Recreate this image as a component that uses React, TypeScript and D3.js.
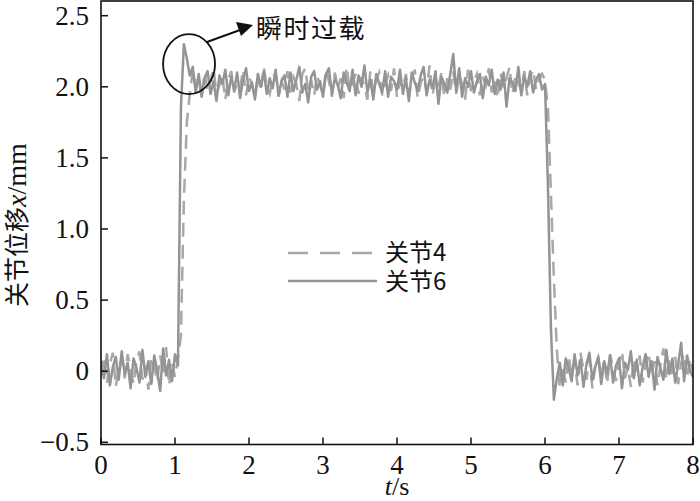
import React from "react";
import * as d3 from "d3";

// Sampled displacement (mm), uniformly spaced from t = 0 s to t = 8 s
const joint6: number[] = [
  0.08, -0.05, 0.12, -0.10, 0.03, 0.10, -0.06, 0.14, -0.02, 0.06,
  -0.12, 0.09, 0.02, -0.08, 0.15, -0.04, 0.07, -0.09, 0.11, 0.00,
  -0.14, 0.16, -0.03, 0.08, -0.07, 0.12, 0.04,
  1.85, 2.30, 2.20, 2.08,
  2.14, 1.96, 2.09, 1.93, 2.06, 2.11, 1.95, 2.04, 1.90, 2.08,
  2.02, 2.12, 1.94, 2.07, 1.98, 2.10, 1.92, 2.05, 2.13, 1.97,
  2.03, 1.91, 2.09, 2.00, 2.11, 1.95, 2.06, 1.99, 2.12, 1.94,
  2.04, 2.08, 1.93, 2.10, 1.97, 2.05, 2.14, 1.96, 2.02, 1.89,
  2.07, 2.11, 1.98, 2.04, 1.93, 2.09, 2.13, 1.95, 2.06, 2.01,
  1.92, 2.10, 2.03, 1.97, 2.12, 1.94, 2.08, 2.00, 2.15, 1.96,
  2.05, 1.91, 2.09, 2.02, 1.96, 2.11, 1.93, 2.07, 2.04, 1.98,
  2.12, 1.95, 2.06, 1.90, 2.10, 2.03, 1.97, 2.08, 2.14, 1.94,
  2.05, 1.99, 2.11, 1.88, 2.07, 2.02, 1.96, 2.09, 2.23, 1.97,
  2.13, 1.93, 2.06, 2.00, 2.11, 1.96, 2.04, 2.09, 1.92, 2.07,
  2.01, 2.12, 1.95, 2.05, 1.98, 2.10, 1.86, 2.06, 2.03, 1.97,
  2.14, 1.94, 2.08, 2.00, 2.11, 1.96, 2.05, 2.09, 1.98,
  2.02, 1.30, 0.30, -0.20,
  -0.05, 0.06, -0.10, 0.09, 0.02, -0.07, 0.12, -0.03, 0.08, -0.11,
  0.05, 0.13, -0.06, 0.03, 0.10, -0.09, 0.07, -0.02, 0.11, -0.08,
  0.04, 0.09, -0.12, 0.06, 0.01, 0.14, -0.05, 0.08, -0.10, 0.03,
  0.12, -0.04, 0.07, -0.13, 0.10, 0.02, -0.06, 0.15, -0.02, 0.09,
  -0.08, 0.05, 0.20, -0.07, 0.11, 0.00, -0.04,
];

const joint4: number[] = [
  -0.03, 0.10, -0.08, 0.05, 0.13, -0.11, 0.02, 0.09, -0.05, 0.12,
  0.00, -0.09, 0.07, 0.14, -0.06, 0.04, -0.13, 0.10, 0.03, -0.07,
  0.11, -0.02, 0.17, -0.10, 0.06, -0.04, 0.09, 0.25,
  1.20, 1.75, 1.95, 2.12, 1.99,
  2.06, 1.93, 2.10, 1.97, 2.04, 2.13, 1.95, 2.01, 2.08, 1.91,
  2.05, 2.11, 1.96, 2.03, 1.99, 2.12, 1.94, 2.07, 2.02, 1.92,
  2.09, 1.97, 2.14, 2.00, 1.95, 2.06, 2.10, 1.93, 2.04, 1.98,
  2.11, 1.96, 2.07, 2.02, 1.90, 2.09, 2.13, 1.97, 2.05, 1.94,
  2.08, 2.01, 1.95, 2.12, 2.04, 1.93, 2.10, 1.99, 2.06, 1.92,
  2.14, 1.98, 2.03, 2.09, 1.95, 2.07, 2.00, 1.91, 2.11, 1.96,
  2.05, 2.10, 1.94, 2.02, 2.08, 1.97, 2.13, 1.93, 2.04, 1.99,
  2.09, 1.95, 2.06, 2.12, 1.92, 2.03, 2.07, 1.97, 2.15, 1.94,
  2.05, 2.00, 2.10, 1.93, 2.06, 1.98, 2.11, 1.95, 2.08, 2.02,
  1.91, 2.12, 1.97, 2.04, 2.09, 1.94, 2.07, 2.01, 2.13, 1.96,
  2.05, 1.92, 2.10, 1.99, 2.06, 2.14, 1.95, 2.08, 2.03, 1.97,
  2.11, 1.94, 2.07, 2.12, 1.98, 2.05, 2.09,
  2.05, 1.85, 1.25, 0.65, 0.15, -0.12,
  0.04, -0.08, 0.11, -0.03, 0.07, -0.10, 0.13, 0.01, -0.06, 0.09,
  -0.12, 0.05, 0.10, -0.04, 0.08, -0.09, 0.12, 0.02, -0.07, 0.06,
  0.14, -0.05, 0.03, -0.11, 0.09, 0.00, 0.11, -0.08, 0.05, 0.13,
  -0.03, 0.07, -0.10, 0.04, 0.16, -0.06, 0.08, -0.02, 0.10, -0.09,
  0.06, 0.12, -0.05, 0.09, -0.01,
];

const xTicks = [0, 1, 2, 3, 4, 5, 6, 7, 8];
const yTicks = [-0.5, 0, 0.5, 1.0, 1.5, 2.0, 2.5];
const yTickLabels = ["\u22120.5", "0", "0.5", "1.0", "1.5", "2.0", "2.5"];
const seriesNames = ["关节4", "关节6"];
const annotationText = "瞬时过载";

const W = 700;
const H = 501;
const M = { left: 101, right: 693, top: 1, bottom: 444.5 };

export default function App() {
  const x = d3.scaleLinear().domain([0, 8]).range([M.left, M.right]);
  const y = d3.scaleLinear().domain([-0.5, 2.5]).range([442.3, 15.7]);

  const toPts = (vals: number[]) => {
    const step = 8 / (vals.length - 1);
    return vals.map((v, i) => [i * step, v] as [number, number]);
  };
  const line = d3
    .line<[number, number]>()
    .x((d) => x(d[0]))
    .y((d) => y(d[1]));

  const serif = "'Liberation Serif', 'Times New Roman', serif";
  const cjk = "'Noto Sans CJK SC', 'Noto Sans', sans-serif";

  return (
    <div style={{ position: "absolute", left: 0, top: 0 }}>
      <svg width={W} height={H} style={{ display: "block", background: "#fff" }}>
        <defs>
          <clipPath id="plotclip">
            <rect x={M.left} y={M.top} width={M.right - M.left} height={M.bottom - M.top} />
          </clipPath>
        </defs>
        <g clipPath="url(#plotclip)">
          <path d={line(toPts(joint4)) || ""} fill="none" stroke="#a8a8a8" strokeWidth={2.5} strokeDasharray="14 8" />
          <path d={line(toPts(joint6)) || ""} fill="none" stroke="#949494" strokeWidth={2.5} strokeLinejoin="round" />
        </g>
        {/* frame */}
        <rect x={M.left} y={M.top} width={M.right - M.left} height={M.bottom - M.top} fill="none" stroke="#111" strokeWidth={1.6} />
        {/* x ticks */}
        {xTicks.map((t) => (
          <g key={"x" + t}>
            <line x1={x(t)} x2={x(t)} y1={M.bottom} y2={M.bottom - 7} stroke="#111" strokeWidth={1.5} />
            <text x={x(t)} y={474} textAnchor="middle" fontFamily={serif} fontSize={27} fill="#111">
              {t}
            </text>
          </g>
        ))}
        {/* y ticks */}
        {yTicks.map((t, i) => (
          <g key={"y" + t}>
            <line x1={M.left} x2={M.left + 7} y1={y(t)} y2={y(t)} stroke="#111" strokeWidth={1.5} />
            <text x={89} y={y(t) + 9} textAnchor="end" fontFamily={serif} fontSize={27} fill="#111">
              {yTickLabels[i]}
            </text>
          </g>
        ))}
        {/* axis titles */}
        <text x={397} y={495} textAnchor="middle" fontFamily={serif} fontSize={26} fill="#111">
          <tspan fontStyle="italic">t</tspan>
          <tspan>/s</tspan>
        </text>
        <text transform="translate(26,225) rotate(-90)" textAnchor="middle" fill="#111">
          <tspan fontFamily={cjk} fontSize={25}>关节位移</tspan>
          <tspan fontFamily={serif} fontSize={28} fontStyle="italic">x</tspan>
          <tspan fontFamily={serif} fontSize={28}>/mm</tspan>
        </text>
        {/* legend */}
        <line x1={288} x2={377} y1={253} y2={253} stroke="#a8a8a8" strokeWidth={2.5} strokeDasharray="20 12" />
        <text x={385} y={261} fontFamily={cjk} fontSize={24} fill="#111">{seriesNames[0]}</text>
        <line x1={288} x2={377} y1={281} y2={281} stroke="#949494" strokeWidth={2.5} />
        <text x={385} y={290} fontFamily={cjk} fontSize={24} fill="#111">{seriesNames[1]}</text>
        {/* annotation */}
        <ellipse cx={x(1.19)} cy={y(2.16)} rx={26} ry={30} fill="none" stroke="#111" strokeWidth={1.8} />
        <line x1={207} y1={42} x2={240} y2={30} stroke="#111" strokeWidth={2} />
        <path d="M253,25 L236,22 L241,36 Z" fill="#111" />
        <text x={256} y={38} fontFamily={cjk} fontSize={26} letterSpacing={1.5} fill="#111">
          {annotationText}
        </text>
      </svg>
    </div>
  );
}
